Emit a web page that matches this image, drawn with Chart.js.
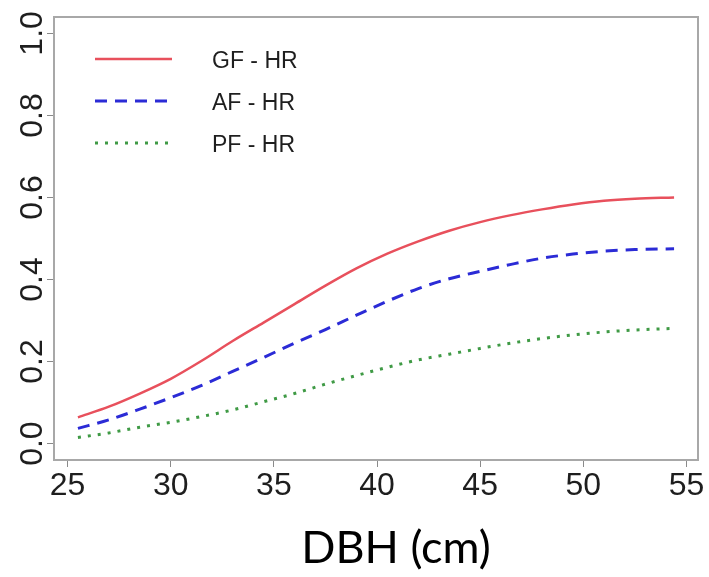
<!DOCTYPE html>
<html>
<head>
<meta charset="utf-8">
<script src="https://cdn.jsdelivr.net/npm/chart.js@4"></script>
<style>
  html, body { margin: 0; padding: 0; background: #ffffff; }
  #wrap { width: 709px; height: 577px; }
</style>
</head>
<body>
<div id="wrap"><canvas id="c" width="709" height="577"></canvas></div>
<script>
// ---- data ----
const dbh = [25.5, 27, 28.5, 30, 31.5, 33, 34.5, 36, 37.5, 39, 40.5, 42, 43.5, 45, 46.5, 48, 49.5, 51, 52.5, 54.4];
const gfHR = [0.064, 0.090, 0.122, 0.158, 0.202, 0.250, 0.295, 0.340, 0.385, 0.427, 0.463, 0.493, 0.519, 0.540, 0.557, 0.571, 0.583, 0.592, 0.597, 0.600];
const afHR = [0.037, 0.058, 0.084, 0.112, 0.142, 0.176, 0.210, 0.245, 0.278, 0.313, 0.347, 0.378, 0.402, 0.420, 0.437, 0.452, 0.462, 0.469, 0.473, 0.475];
const pfHR = [0.015, 0.026, 0.040, 0.052, 0.066, 0.082, 0.102, 0.122, 0.145, 0.166, 0.186, 0.204, 0.218, 0.232, 0.245, 0.256, 0.265, 0.272, 0.277, 0.281];
const seriesNames = ['GF - HR', 'AF - HR', 'PF - HR'];
const xTicks = [25, 30, 35, 40, 45, 50, 55];
const yTicks = [0.0, 0.2, 0.4, 0.6, 0.8, 1.0];
const xTitle = 'DBH (cm)';

const colors = ['#e8505c', '#2b2bd6', '#3f9a45'];
const dashes = [[], [12, 8], [3, 7]];
const widths = [2.5, 3, 3];

const toPts = arr => arr.map((v, i) => ({ x: dbh[i], y: v }));

const decor = {
  id: 'decor',
  afterDraw(chart) {
    const ctx = chart.ctx;
    const a = chart.chartArea;
    const ys = chart.scales.y;
    ctx.save();
    // box top & right
    ctx.strokeStyle = '#a8a8a8';
    ctx.lineWidth = 2;
    ctx.beginPath();
    ctx.moveTo(a.left, a.top);
    ctx.lineTo(a.right, a.top);
    ctx.lineTo(a.right, a.bottom);
    ctx.stroke();
    // rotated y tick labels
    ctx.fillStyle = '#1e1e1e';
    ctx.font = '32px "Liberation Sans", Arial, sans-serif';
    ctx.textAlign = 'center';
    ctx.textBaseline = 'middle';
    ys.ticks.forEach(t => {
      const py = ys.getPixelForValue(t.value);
      ctx.save();
      ctx.translate(33, py);
      ctx.rotate(-Math.PI / 2);
      ctx.fillText(t.value.toFixed(1), 0, 0);
      ctx.restore();
    });
    // legend
    const legY = [59, 101, 143];
    ctx.font = '23px "Liberation Sans", Arial, sans-serif';
    ctx.textAlign = 'left';
    seriesNames.forEach((n, i) => {
      ctx.strokeStyle = colors[i];
      ctx.lineWidth = widths[i];
      ctx.setLineDash(dashes[i]);
      ctx.beginPath();
      ctx.moveTo(95, legY[i]);
      ctx.lineTo(172, legY[i]);
      ctx.stroke();
      ctx.setLineDash([]);
      ctx.fillStyle = '#1e1e1e';
      ctx.fillText(n, 212, legY[i] + 3);
    });
    // x title
    ctx.fillStyle = '#000000';
    ctx.font = '45px Lato, "Open Sans", sans-serif';
    ctx.textAlign = 'center';
    ctx.textBaseline = 'alphabetic';
    ctx.fillText(xTitle, 396, 563);
    ctx.restore();
  }
};

new Chart(document.getElementById('c'), {
  type: 'line',
  data: {
    datasets: [gfHR, afHR, pfHR].map((arr, i) => ({
      label: seriesNames[i],
      data: toPts(arr),
      borderColor: colors[i],
      borderWidth: widths[i],
      borderDash: dashes[i],
      pointRadius: 0,
      fill: false,
      tension: 0.4,
      cubicInterpolationMode: 'monotone'
    }))
  },
  options: {
    responsive: false,
    animation: false,
    devicePixelRatio: 1,
    layout: { padding: { top: 17, right: 11, left: 0, bottom: 0 } },
    plugins: { legend: { display: false }, tooltip: { enabled: false }, title: { display: false } },
    scales: {
      x: {
        type: 'linear',
        min: 24.34,
        max: 55.56,
        afterBuildTicks: s => { s.ticks = xTicks.map(v => ({ value: v })); },
        afterFit: s => { s.height = 117; },
        grid: { drawOnChartArea: false, drawTicks: true, tickLength: 7, color: '#8a8a8a', lineWidth: 1 },
        border: { display: true, color: '#a8a8a8', width: 2 },
        ticks: {
          color: '#1e1e1e',
          font: { family: '"Liberation Sans", Arial, sans-serif', size: 32 },
          padding: 0,
          maxRotation: 0,
          autoSkip: false,
          callback: v => String(v)
        }
      },
      y: {
        type: 'linear',
        min: -0.04,
        max: 1.04,
        afterBuildTicks: s => { s.ticks = yTicks.map(v => ({ value: v })); },
        afterFit: s => { s.width = 54; },
        grid: { drawOnChartArea: false, drawTicks: true, tickLength: 7, color: '#8a8a8a', lineWidth: 1 },
        border: { display: true, color: '#a8a8a8', width: 2 },
        ticks: { display: false }
      }
    }
  },
  plugins: [decor]
});
</script>
</body>
</html>
